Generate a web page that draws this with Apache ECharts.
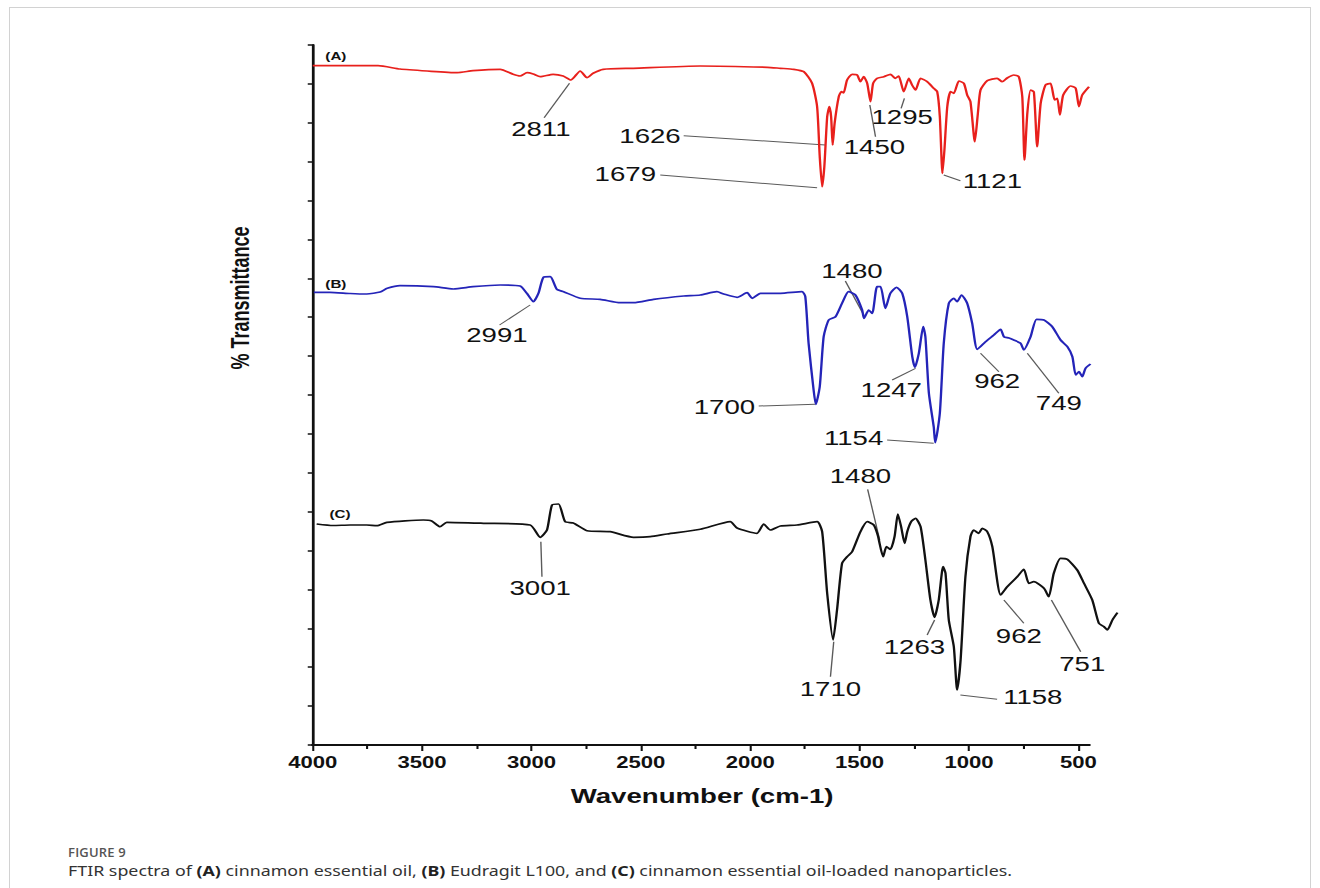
<!DOCTYPE html>
<html>
<head>
<meta charset="utf-8">
<script src="https://cdn.jsdelivr.net/npm/echarts@6/dist/echarts.min.js"></script>
<style>
html,body{margin:0;padding:0;background:#fff;width:1320px;height:888px;overflow:hidden;}
#frame{position:absolute;left:9px;top:7px;width:1302px;height:900px;border:1px solid #d2d2d2;box-sizing:border-box;}
#chart{position:absolute;left:0;top:0;width:956.52px;height:888px;transform:scaleX(1.38);transform-origin:0 0;}
#fig{position:absolute;left:68px;top:843px;font:600 13px "Open Sans";color:#555;letter-spacing:0.2px;}
#cap{position:absolute;left:68px;top:860px;font:14.5px "Noto Sans";color:#333;white-space:nowrap;transform-origin:0 0;}
#cap b{font-weight:700;color:#222;}
</style>
</head>
<body>
<div id="frame"></div>
<div id="chart"></div>
<div id="fig">FIGURE 9</div>
<div id="cap">FTIR spectra of <b>(A)</b> cinnamon essential oil, <b>(B)</b> Eudragit L100, and <b>(C)</b> cinnamon essential oil-loaded nanoparticles.</div>
<script>
// ---- data (wavenumber cm-1, relative transmittance) ----
const xMajorTicks = [4000, 3500, 3000, 2500, 2000, 1500, 1000, 500];
const xMinorTicks = [3750, 3250, 2750, 2250, 1750, 1250, 750];
const xAxisLineRange = [4000, 444];   // drawn extent of the x axis line
const xDataRange = [320, 4000];       // full extent covered by the spectra

const specA = [[4000,679.3],[3701,679.3],[3601,676],[3477,674],[3340,672.3],[3267,674.3],[3143,675.7],[3084,670.7],[3052,669],[3020,672.3],[2992,671],[2960,668.3],[2901,670.7],[2855,669],[2820,665],[2777,674],[2746,667.3],[2718,671.7],[2672,675.7],[2535,676.7],[2228,679],[1921,677.7],[1862,676.7],[1801,675.7],[1755,673.3],[1717,661.7],[1694,638.3],[1682,588.3],[1671,558.3],[1661,578.3],[1648,628.3],[1638,638.3],[1630,628.3],[1623,600],[1614,621.7],[1595,648.3],[1583,653.3],[1573,652],[1557,665],[1534,670.7],[1511,670],[1496,663.3],[1481,668.3],[1465,661.7],[1450,643.3],[1438,661.7],[1420,666.7],[1389,668.3],[1359,670.7],[1336,666.7],[1321,669],[1298,653.3],[1275,666.7],[1260,660],[1244,655],[1221,666.7],[1191,663.3],[1161,656.7],[1145,653.3],[1133,628.3],[1121,571.7],[1112,595],[1099,638.3],[1084,653.3],[1069,651.7],[1046,664],[1023,661.7],[1008,650],[993,643.3],[973,603.3],[959,631.7],[947,655],[916,664.3],[871,666.7],[848,663.3],[825,667],[795,670],[772,668.3],[756,648.3],[746,585],[733,631.7],[718,655],[703,653],[688,598.3],[672,641.7],[650,660],[627,661.7],[608,645],[596,646.7],[584,630],[569,650],[535,659],[512,656.7],[497,638.3],[482,650],[451,658.3]];

const specB = [[3995,452.7],[3921,452.7],[3829,451.5],[3753,451],[3692,453],[3659,456.7],[3601,459.3],[3448,458.3],[3357,456],[3267,458.3],[3143,460],[3052,459],[3021,451.7],[2991,443.3],[2968,451.7],[2945,467.7],[2914,468.3],[2884,455.7],[2853,453.3],[2777,446.7],[2686,445.7],[2594,442.3],[2533,442.3],[2442,445.7],[2304,449],[2228,450],[2152,453.3],[2121,451],[2060,447.7],[2014,452.3],[1991,446.7],[1953,451.7],[1862,451.7],[1763,453.3],[1748,448.3],[1733,401.7],[1710,355],[1700,340.7],[1682,358.3],[1664,408.3],[1641,425],[1610,428.3],[1580,441.7],[1550,453.3],[1519,450],[1488,435],[1480,426.7],[1458,435],[1442,431.7],[1420,458.3],[1404,458.3],[1382,436.7],[1359,451.7],[1331,457.7],[1305,451.7],[1282,428.3],[1259,388.3],[1247,377.7],[1229,391.7],[1209,418.3],[1199,408.3],[1183,351.7],[1161,318.3],[1154,302.3],[1133,331.7],[1115,401.7],[1092,441.7],[1069,446.7],[1054,443.3],[1034,450],[1008,441.7],[985,421.7],[962,395.7],[924,403.3],[886,410],[855,415.7],[840,408.3],[817,407],[795,405],[764,401.7],[749,395],[718,408.3],[691,425.7],[657,425],[619,418.3],[581,405],[550,398.3],[527,388.3],[512,370],[497,373.3],[482,368.3],[467,376.7],[444,381]];

const specC = [[3982,221],[3907,219.5],[3829,220],[3753,220],[3707,219.3],[3661,222.7],[3494,225],[3456,224],[3418,218.3],[3387,222.7],[3219,221.7],[3006,220],[2960,207.7],[2929,215],[2906,240],[2876,241],[2846,223.3],[2809,222],[2746,214.3],[2640,213.3],[2533,207.7],[2457,208.3],[2380,211],[2228,215.7],[2091,223.3],[2060,217],[1969,211.7],[1938,221],[1908,215],[1862,219],[1786,220],[1694,223.3],[1671,213.3],[1648,151.7],[1621,105],[1603,135],[1580,181.7],[1557,188.3],[1534,193.3],[1496,213.3],[1465,223.3],[1435,220],[1417,210],[1392,188.3],[1377,198.3],[1359,195.7],[1340,208.3],[1325,231],[1310,218.3],[1294,201.7],[1282,213.3],[1264,223.3],[1244,226.7],[1221,218.3],[1199,185],[1176,145],[1157,127.7],[1138,145],[1118,178.3],[1107,171.7],[1092,125],[1069,98.3],[1054,55],[1038,85],[1016,168.3],[993,208.3],[978,215],[955,211.7],[939,216.7],[916,213.3],[893,198.3],[855,150],[825,158.3],[779,168.3],[749,175.7],[726,161.7],[703,163.3],[657,156.7],[635,148.3],[612,171.7],[581,186.7],[550,185.7],[505,175],[474,161.7],[436,145],[406,121.7],[383,118.3],[367,115],[344,125],[321,132.3]];

// peak annotations: label, leader start (at peak), leader end, label anchor (data coords)
const annoText = ['2811','1626','1679','1450','1295','1121',
                  '2991','1700','1480','1247','1154','962','749',
                  '3001','1480','1710','1263','1158','962','751'];
const annoFrom = [[2826,661.7],[1656,600],[1694,557.3],[1453,640],[1295,646.7],[1115,570],
                  [3006,440],[1702,340.7],[1481,430],[1244,376.7],[1161,301.7],[947,391.7],[733,391.7],
                  [2957,203.3],[1408,205],[1618,103.3],[1157,125],[1039,50],[840,145],[623,145]];
const annoTo   = [[2942,627.3],[2304,609.3],[2411,570],[1427,608.3],[1310,636.7],[1039,564.3],
                  [3146,420],[1961,339],[1565,464],[1351,365],[1374,305],[863,373.3],[589,351.7],
                  [2952,168.3],[1463,255.7],[1633,68.3],[1191,110],[871,45.7],[749,121.7],[489,93.3]];
const annoPos  = [[2957,615.7],[2458,609.3],[2571,571],[1432,597.7],[1305,627.7],[893,564.3],
                  [3158,410],[2118,338.3],[1535,474],[1355,355],[1527,306.7],[871,364.3],[589,341.7],
                  [2960,157.3],[1496,269],[1633,55.7],[1249,97.7],[708,47.7],[772,109.3],[482,81]];

const tagText = ['(A)', '(B)', '(C)'];
const tagPos = [[3894,688.3],[3894,461],[3875,231]];

// ---- chart ----
const chart = echarts.init(document.getElementById('chart'), null, {renderer: 'svg'});
const FONT = '"Liberation Sans", Arial, sans-serif';

const annoData = annoText.map((t, i) => [annoFrom[i][0], annoFrom[i][1], annoTo[i][0], annoTo[i][1], annoPos[i][0], annoPos[i][1]]);

chart.setOption({
  animation: false,
  backgroundColor: 'transparent',
  textStyle: {fontFamily: FONT},
  grid: {left: 226.6, right: 147.1, top: 45, bottom: 143, containLabel: false},
  xAxis: [{
    type: 'value', inverse: true, min: xDataRange[0], max: xDataRange[1],
    axisLine: {show: false},
    axisTick: {show: true, customValues: xMajorTicks, length: 6, lineStyle: {color: '#111', width: 1.5}},
    axisLabel: {show: true, customValues: xMajorTicks, margin: 10, fontFamily: FONT, fontWeight: 'bold', fontSize: 16, color: '#111',
                formatter: function (v) { return String(v); }},
    splitLine: {show: false},
    name: 'Wavenumber (cm-1)', nameLocation: 'middle', nameGap: 41,
    nameTextStyle: {fontFamily: FONT, fontWeight: 'bold', fontSize: 20, color: '#111', padding: [0, 19, 0, 0]}
  }, {
    type: 'value', inverse: true, min: xDataRange[0], max: xDataRange[1], position: 'bottom',
    axisLine: {show: false},
    axisTick: {show: true, customValues: xMinorTicks, length: 4, lineStyle: {color: '#111', width: 1.5}},
    axisLabel: {show: false},
    splitLine: {show: false}
  }],
  yAxis: {
    type: 'value', min: 0, max: 700, interval: 700 / 18,
    axisLine: {show: true, onZero: false, lineStyle: {color: '#111', width: 2}},
    axisTick: {show: true, length: 3.6, lineStyle: {color: '#111', width: 1.5}},
    axisLabel: {show: false},
    splitLine: {show: false}
  },
  graphic: [{
    type: 'text', x: 173.9, y: 298, rotation: Math.PI / 2,
    style: {text: '% Transmittance', font: 'bold 18px "Liberation Sans"', fill: '#111', align: 'center', verticalAlign: 'middle'}
  }],
  series: [
    {name: 'axisline', type: 'custom', silent: true, clip: false, z: 3,
     data: [[xAxisLineRange[0], 0, xAxisLineRange[1], 0]], encode: {x: [0, 2], y: [1, 3]},
     renderItem: function (params, api) {
       const a = api.coord([api.value(0), api.value(1)]);
       const b = api.coord([api.value(2), api.value(3)]);
       return {type: 'line', shape: {x1: a[0] - 1, y1: a[1], x2: b[0], y2: b[1]}, style: {stroke: '#111', lineWidth: 2}};
     }},
    {name: 'A', type: 'line', data: specA, showSymbol: false, symbol: 'none', smooth: 0.2, silent: true,
     lineStyle: {color: '#e8201c', width: 1.7}},
    {name: 'B', type: 'line', data: specB, showSymbol: false, symbol: 'none', smooth: 0.2, silent: true,
     lineStyle: {color: '#2424b8', width: 1.7}},
    {name: 'C', type: 'line', data: specC, showSymbol: false, symbol: 'none', smooth: 0.2, silent: true,
     lineStyle: {color: '#111111', width: 1.7}},
    {name: 'peaks', type: 'custom', silent: true, clip: false,
     data: annoData, encode: {x: [0, 2, 4], y: [1, 3, 5]},
     renderItem: function (params, api) {
       const p0 = api.coord([api.value(0), api.value(1)]);
       const p1 = api.coord([api.value(2), api.value(3)]);
       const p2 = api.coord([api.value(4), api.value(5)]);
       return {type: 'group', children: [
         {type: 'line', shape: {x1: p0[0], y1: p0[1], x2: p1[0], y2: p1[1]}, style: {stroke: '#5a5a5a', lineWidth: 1}},
         {type: 'text', x: p2[0], y: p2[1],
          style: {text: annoText[params.dataIndex], font: '20px "Liberation Sans"', fill: '#111',
                  align: 'center', verticalAlign: 'middle'}}
       ]};
     }},
    {name: 'tags', type: 'custom', silent: true, clip: false,
     data: tagPos, encode: {x: 0, y: 1},
     renderItem: function (params, api) {
       const p = api.coord([api.value(0), api.value(1)]);
       return {type: 'text', x: p[0], y: p[1],
               style: {text: tagText[params.dataIndex], font: 'bold 11px "Liberation Sans"', fill: '#111',
                       align: 'center', verticalAlign: 'middle'}};
     }}
  ]
});

// fit caption to its width in the reference
const cap = document.getElementById('cap');
const w = cap.getBoundingClientRect().width;
cap.style.transform = 'scaleX(' + (944 / w) + ')';
</script>
</body>
</html>
